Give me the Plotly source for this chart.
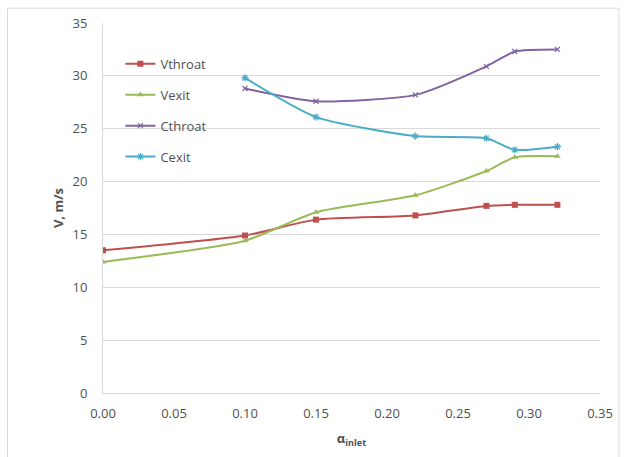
import plotly.graph_objects as go

x_v = [0.00, 0.10, 0.15, 0.22, 0.27, 0.29, 0.32]
vthroat = [13.5, 14.9, 16.4, 16.8, 17.7, 17.8, 17.8]
vexit = [12.4, 14.4, 17.1, 18.7, 21.0, 22.3, 22.4]
x_c = [0.10, 0.15, 0.22, 0.27, 0.29, 0.32]
cthroat = [28.8, 27.6, 28.2, 30.9, 32.3, 32.5]
cexit = [29.8, 26.1, 24.3, 24.1, 23.0, 23.3]

x_ticks = [0.00, 0.05, 0.10, 0.15, 0.20, 0.25, 0.30, 0.35]
y_ticks = [0, 5, 10, 15, 20, 25, 30, 35]

FONT = "Open Sans"
TXT = "#505050"

fig = go.Figure()
fig.add_trace(go.Scatter(x=x_v, y=vthroat, name="Vthroat", mode="lines+markers", legendgroup="a",
                         line=dict(color="#C0504D", width=2, shape="spline", smoothing=0.6),
                         marker=dict(symbol="square", size=6, color="#C0504D")))
fig.add_trace(go.Scatter(x=x_v, y=vexit, name="Vexit", mode="lines+markers", legendgroup="b",
                         line=dict(color="#9BBB59", width=2, shape="spline", smoothing=0.6),
                         marker=dict(symbol="triangle-up", size=6, color="#9BBB59")))
fig.add_trace(go.Scatter(x=x_c, y=cthroat, name="Cthroat", mode="lines+markers", legendgroup="c",
                         line=dict(color="#8064A2", width=2, shape="spline", smoothing=0.6),
                         marker=dict(symbol="x-thin", size=5, color="#8064A2",
                                     line=dict(color="#8064A2", width=1.2))))
fig.add_trace(go.Scatter(x=x_c, y=cexit, name="Cexit", mode="lines+markers", legendgroup="d",
                         line=dict(color="#4BACC6", width=2, shape="spline", smoothing=0.6),
                         marker=dict(symbol="asterisk-open", size=6, color="#4BACC6",
                                     line=dict(color="#4BACC6", width=1.2))))

fig.update_layout(
    width=625, height=457,
    margin=dict(l=103, r=23, t=23, b=64),
    paper_bgcolor="white", plot_bgcolor="white",
    font=dict(family=FONT, size=13, color=TXT),
    showlegend=True,
    legend=dict(x=0.035, y=0.93, xanchor="left", yanchor="top",
                bgcolor="rgba(255,255,255,0)", font=dict(size=13, color=TXT),
                tracegroupgap=11, itemwidth=30),
    xaxis=dict(range=[0, 0.35], tickvals=x_ticks, tickformat=".2f",
               showgrid=False, zeroline=False, showline=True, linecolor="#D9D9D9",
               ticks="", ticklabelstandoff=8, ticklabeloverflow="allow",
               title=dict(text="<b>α<sub>inlet</sub></b>", font=dict(size=13, color=TXT), standoff=13)),
    yaxis=dict(range=[0, 35], tickvals=y_ticks, showgrid=True, gridcolor="#D9D9D9",
               zeroline=False, showline=True, linecolor="#D9D9D9", ticks="",
               ticklabelstandoff=12,
               title=dict(text="<b>V, m/s</b>", font=dict(size=13, color=TXT), standoff=5)),
    shapes=[dict(type="rect", xref="paper", yref="paper", x0=-0.192, x1=1.038, y0=-0.2, y1=1.04,
                 line=dict(color="#D9D9D9", width=1), layer="below")],
)

fig.write_html("out.html", config={"displayModeBar": False},
               post_script="document.body.style.margin='0';document.body.style.overflow='hidden';")
